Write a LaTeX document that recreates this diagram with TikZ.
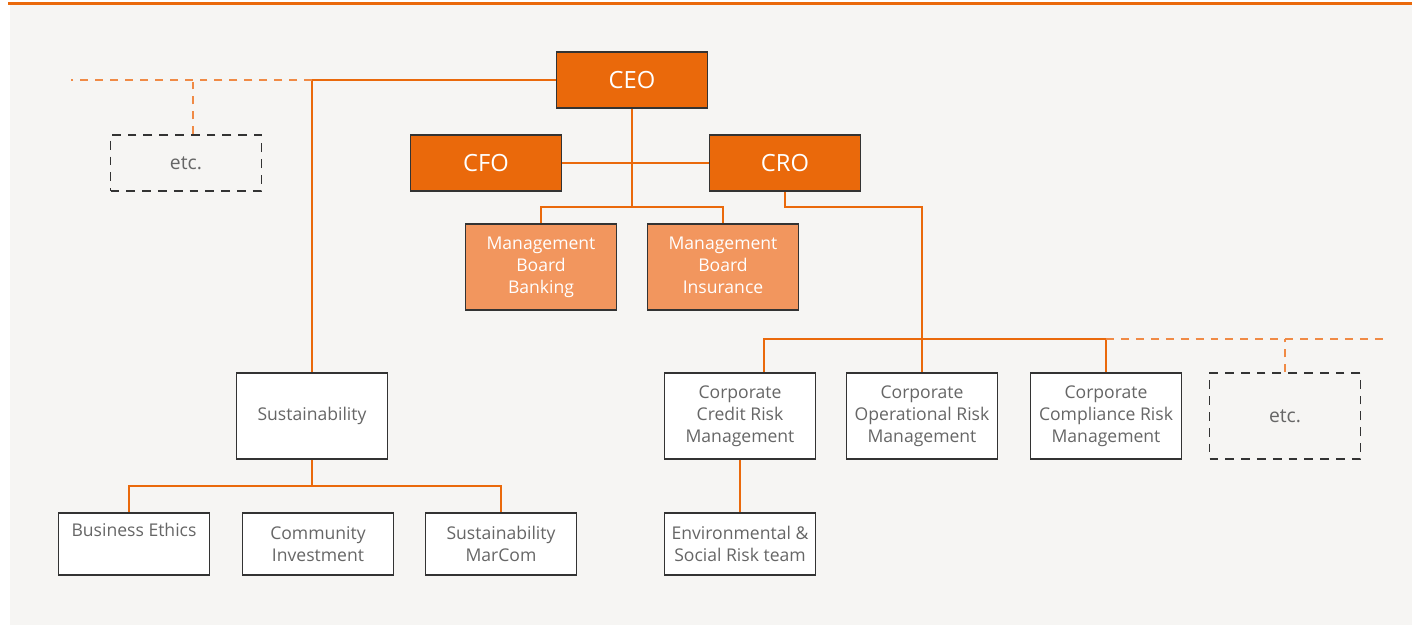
\documentclass[tikz,border=0pt]{standalone}
\usepackage{fontspec}
\setmainfont{Open Sans}
\definecolor{orgmain}{HTML}{EA690B}
\definecolor{orglight}{HTML}{F2965E}
\definecolor{orgdash}{HTML}{F08A45}
\definecolor{boxline}{HTML}{333333}
\definecolor{txtgray}{HTML}{666666}
\definecolor{pagegray}{HTML}{F6F5F3}
\tikzset{
  box/.style={draw=boxline,line width=0.9pt,fill=white,text=txtgray,align=center,
    minimum width=3.02cm,inner sep=0pt,font=\fontsize{10}{12.5}\selectfont},
  tallbox/.style={box,minimum height=1.72cm},
  lowbox/.style={box,minimum height=1.24cm},
  headbox/.style={box,fill=orgmain,text=white,minimum height=1.12cm,
    font=\fontsize{13.5}{16}\selectfont},
  boardbox/.style={tallbox,fill=orglight,text=white},
  etcbox/.style={box,fill=none,dash pattern=on 5pt off 4pt,
    font=\fontsize{11}{13}\selectfont},
  link/.style={draw=orgmain,line width=0.9pt},
  dashlink/.style={draw=orgdash,line width=0.9pt,dash pattern=on 4.5pt off 4pt},
}
\begin{document}
\begin{tikzpicture}[x=0.02cm,y=-0.02cm]
  \useasboundingbox (0,0) rectangle (1416,625);
  \fill [pagegray] (10,5) rectangle (1412,625);
  \draw [orgmain,line width=1.6pt] (8,3.3) -- (1412,3.3);
  % top level
  \node [headbox] (ceo) at (632,80) {CEO};
  \node [headbox] (cfo) at (486,163) {CFO};
  \node [headbox] (cro) at (785,163) {CRO};
  \node [boardbox] (mbb) at (541,267) {Management\\Board\\Banking};
  \node [boardbox] (mbi) at (723,267) {Management\\Board\\Insurance\vphantom{g}};
  \node [etcbox,minimum height=1.12cm] (etcl) at (186,163) {etc.};
  % second level
  \node [tallbox] (sust) at (312,416) {Sustainability\vphantom{g}};
  \node [tallbox] (credit) at (740,416) {Corporate\\Credit Risk\\Management};
  \node [tallbox] (oper) at (922,416) {Corporate\\Operational Risk\\Management};
  \node [tallbox] (compl) at (1106,416) {Corporate\\Compliance Risk\\Management};
  \node [etcbox,minimum height=1.72cm] (etcr) at (1285,416) {etc.};
  % bottom level
  \node [lowbox] (env) at (740,544) {Environmental \&\\Social Risk team};
  \node [lowbox] (ethics) at (134,544) {Business Ethics\\\strut};
  \node [lowbox] (commu) at (318,544) {Community\\Investment};
  \node [lowbox] (marcom) at (501,544) {Sustainability\\MarCom};
  % junctions
  \coordinate (jboard) at (632,207);
  \coordinate (jrisk) at (922,207);
  \coordinate (jdept) at (1106,339);
  \coordinate (jsust) at (312,486);
  \coordinate (lend) at (71,80);
  \coordinate (rend) at (1388,339);
  % connectors
  \draw [link] (ceo) -- (jboard);
  \draw [link] (cfo) -- (cro);
  \draw [link] (mbb.north) |- (jboard) -| (mbi.north);
  \draw [link] (cro.south) |- (jrisk) -- (oper.north);
  \draw [link] ([xshift=0.48cm]credit.north) |- (jdept) -- (compl.north);
  \draw [link] (credit) -- (env);
  \draw [link] (ceo.west) -| (sust.north);
  \draw [link] (sust) -- (jsust);
  \draw [link] ([xshift=-0.1cm]ethics.north) |- (jsust) -| (marcom.north);
  \draw [dashlink] (sust.north |- ceo.west) -- (lend);
  \draw [dashlink] ([xshift=0.14cm]etcl.north) -- ([xshift=0.14cm]etcl.north |- ceo.west);
  \draw [dashlink] (jdept) -- (rend);
  \draw [dashlink] (etcr.north) -- (etcr.north |- jdept);
\end{tikzpicture}
\end{document}
